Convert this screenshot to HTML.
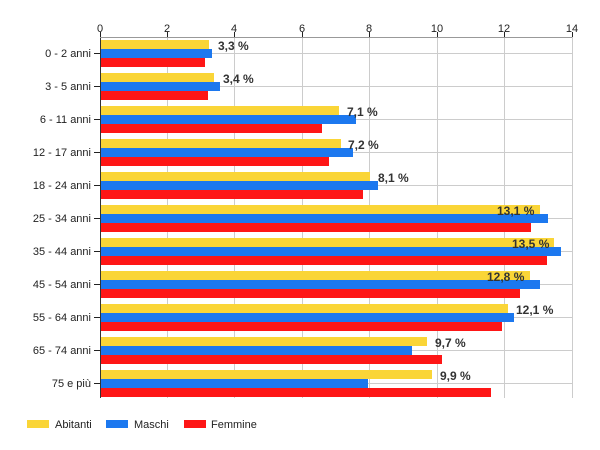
<!DOCTYPE html>
<html><head><meta charset="utf-8"><style>body{margin:0;background:#fff}svg{display:block;font-family:"Liberation Sans",sans-serif}</style></head><body>
<svg width="600" height="450" xmlns="http://www.w3.org/2000/svg">
<g stroke="#ccc" stroke-width="1">
<line x1="167.5" y1="37" x2="167.5" y2="398"/><line x1="234.5" y1="37" x2="234.5" y2="398"/><line x1="302.5" y1="37" x2="302.5" y2="398"/><line x1="369.5" y1="37" x2="369.5" y2="398"/><line x1="437.5" y1="37" x2="437.5" y2="398"/><line x1="504.5" y1="37" x2="504.5" y2="398"/><line x1="572.5" y1="37" x2="572.5" y2="398"/>
<line x1="100" y1="53.5" x2="572" y2="53.5"/><line x1="100" y1="86.5" x2="572" y2="86.5"/><line x1="100" y1="119.5" x2="572" y2="119.5"/><line x1="100" y1="152.5" x2="572" y2="152.5"/><line x1="100" y1="185.5" x2="572" y2="185.5"/><line x1="100" y1="218.5" x2="572" y2="218.5"/><line x1="100" y1="251.5" x2="572" y2="251.5"/><line x1="100" y1="284.5" x2="572" y2="284.5"/><line x1="100" y1="317.5" x2="572" y2="317.5"/><line x1="100" y1="350.5" x2="572" y2="350.5"/><line x1="100" y1="383.5" x2="572" y2="383.5"/>
</g>
<g id="bars">
<rect x="100" y="40" width="109" height="9" fill="#fad537"/><rect x="100" y="49" width="112" height="9" fill="#1c78ef"/><rect x="100" y="58" width="105" height="9" fill="#fe1616"/>
<rect x="100" y="73" width="114" height="9" fill="#fad537"/><rect x="100" y="82" width="120" height="9" fill="#1c78ef"/><rect x="100" y="91" width="108" height="9" fill="#fe1616"/>
<rect x="100" y="106" width="239" height="9" fill="#fad537"/><rect x="100" y="115" width="256" height="9" fill="#1c78ef"/><rect x="100" y="124" width="222" height="9" fill="#fe1616"/>
<rect x="100" y="139" width="241" height="9" fill="#fad537"/><rect x="100" y="148" width="253" height="9" fill="#1c78ef"/><rect x="100" y="157" width="229" height="9" fill="#fe1616"/>
<rect x="100" y="172" width="270" height="9" fill="#fad537"/><rect x="100" y="181" width="278" height="9" fill="#1c78ef"/><rect x="100" y="190" width="263" height="9" fill="#fe1616"/>
<rect x="100" y="205" width="440" height="9" fill="#fad537"/><rect x="100" y="214" width="448" height="9" fill="#1c78ef"/><rect x="100" y="223" width="431" height="9" fill="#fe1616"/>
<rect x="100" y="238" width="454" height="9" fill="#fad537"/><rect x="100" y="247" width="461" height="9" fill="#1c78ef"/><rect x="100" y="256" width="447" height="9" fill="#fe1616"/>
<rect x="100" y="271" width="430" height="9" fill="#fad537"/><rect x="100" y="280" width="440" height="9" fill="#1c78ef"/><rect x="100" y="289" width="420" height="9" fill="#fe1616"/>
<rect x="100" y="304" width="408" height="9" fill="#fad537"/><rect x="100" y="313" width="414" height="9" fill="#1c78ef"/><rect x="100" y="322" width="402" height="9" fill="#fe1616"/>
<rect x="100" y="337" width="327" height="9" fill="#fad537"/><rect x="100" y="346" width="312" height="9" fill="#1c78ef"/><rect x="100" y="355" width="342" height="9" fill="#fe1616"/>
<rect x="100" y="370" width="332" height="9" fill="#fad537"/><rect x="100" y="379" width="268" height="9" fill="#1c78ef"/><rect x="100" y="388" width="391" height="9" fill="#fe1616"/>
</g>
<g stroke="#333"><line x1="100.5" y1="37" x2="100.5" y2="398"/><line x1="100" y1="37.5" x2="572" y2="37.5" stroke="#999"/></g>
<g stroke="#222"><line x1="100.5" y1="32" x2="100.5" y2="37"/><line x1="167.5" y1="32" x2="167.5" y2="37"/><line x1="234.5" y1="32" x2="234.5" y2="37"/><line x1="302.5" y1="32" x2="302.5" y2="37"/><line x1="369.5" y1="32" x2="369.5" y2="37"/><line x1="437.5" y1="32" x2="437.5" y2="37"/><line x1="504.5" y1="32" x2="504.5" y2="37"/><line x1="572.5" y1="32" x2="572.5" y2="37"/>
<line x1="94" y1="53.5" x2="100" y2="53.5"/><line x1="94" y1="86.5" x2="100" y2="86.5"/><line x1="94" y1="119.5" x2="100" y2="119.5"/><line x1="94" y1="152.5" x2="100" y2="152.5"/><line x1="94" y1="185.5" x2="100" y2="185.5"/><line x1="94" y1="218.5" x2="100" y2="218.5"/><line x1="94" y1="251.5" x2="100" y2="251.5"/><line x1="94" y1="284.5" x2="100" y2="284.5"/><line x1="94" y1="317.5" x2="100" y2="317.5"/><line x1="94" y1="350.5" x2="100" y2="350.5"/><line x1="94" y1="383.5" x2="100" y2="383.5"/></g>
<g font-size="11" fill="#222" text-anchor="middle"><text x="100" y="32">0</text><text x="167" y="32">2</text><text x="234" y="32">4</text><text x="302" y="32">6</text><text x="369" y="32">8</text><text x="437" y="32">10</text><text x="504" y="32">12</text><text x="572" y="32">14</text></g>
<g font-size="11" fill="#222" text-anchor="end"><text x="91" y="57">0 - 2 anni</text><text x="91" y="90">3 - 5 anni</text><text x="91" y="123">6 - 11 anni</text><text x="91" y="156">12 - 17 anni</text><text x="91" y="189">18 - 24 anni</text><text x="91" y="222">25 - 34 anni</text><text x="91" y="255">35 - 44 anni</text><text x="91" y="288">45 - 54 anni</text><text x="91" y="321">55 - 64 anni</text><text x="91" y="354">65 - 74 anni</text><text x="91" y="387">75 e più</text></g>
<g font-size="12" font-weight="bold" fill="#333"><text x="218" y="50">3,3 %</text><text x="223" y="83">3,4 %</text><text x="347" y="116">7,1 %</text><text x="348" y="149">7,2 %</text><text x="378" y="182">8,1 %</text><text x="497" y="215">13,1 %</text><text x="512" y="248">13,5 %</text><text x="487" y="281">12,8 %</text><text x="516" y="314">12,1 %</text><text x="435" y="347">9,7 %</text><text x="440" y="380">9,9 %</text></g>
<rect x="27" y="420" width="22" height="8" fill="#fad537"/><rect x="106" y="420" width="22" height="8" fill="#1c78ef"/><rect x="184" y="420" width="22" height="8" fill="#fe1616"/>
<g font-size="11" fill="#222"><text x="55" y="428">Abitanti</text><text x="134" y="428">Maschi</text><text x="211" y="428">Femmine</text></g>
</svg>
</body></html>
